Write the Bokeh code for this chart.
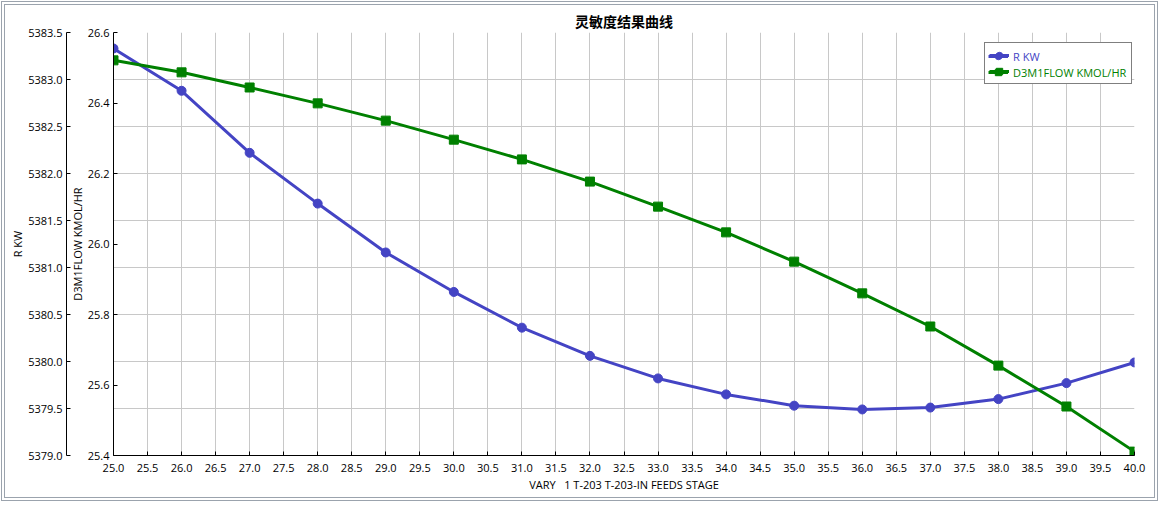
from bokeh.plotting import figure
from bokeh.models import (Range1d, LinearAxis, Grid, SingleIntervalTicker, Legend,
                          LegendItem, NumeralTickFormatter)
from bokeh.embed import file_html
from bokeh.resources import INLINE

# ---- data ----
stage = [25, 26, 27, 28, 29, 30, 31, 32, 33, 34, 35, 36, 37, 38, 39, 40]
r_kw = [5383.33, 5382.88, 5382.22, 5381.68, 5381.16, 5380.74, 5380.36, 5380.06,
        5379.82, 5379.65, 5379.53, 5379.49, 5379.51, 5379.60, 5379.77, 5379.99]
d3m1flow = [26.521, 26.487, 26.444, 26.399, 26.350, 26.296, 26.240, 26.177,
            26.106, 26.033, 25.950, 25.860, 25.766, 25.655, 25.539, 25.411]
title_text = "灵敏度结果曲线"
x_label = "VARY \u00a0\u00a01 T-203 T-203-IN FEEDS STAGE"
r_label = "R KW"
flow_label = "D3M1FLOW KMOL/HR"

BLUE = "#4444c4"
GREEN = "#008000"
FONT = "Open Sans"

p = figure(frame_width=1021, frame_height=423,
           x_range=Range1d(25, 40), y_range=Range1d(5379, 5383.5),
           y_axis_location=None, output_backend="svg", toolbar_location=None,
           min_border_left=108, min_border_right=20, min_border_top=27, min_border_bottom=42)
p.extra_y_ranges = {"flow": Range1d(25.4, 26.6)}
p.styles = {"margin": "1px", "border": "4px double #9ba3ad"}
p.outline_line_color = None
p.background_fill_color = "white"
p.border_fill_color = "white"

p.title.text = title_text
p.title.align = "center"
p.title.text_font = "Noto Sans CJK SC"
p.title.text_font_size = "14px"
p.title.text_font_style = "bold"
p.title.text_color = "black"
p.title.standoff = 4

xticker = SingleIntervalTicker(interval=0.5, num_minor_ticks=0)
rticker = SingleIntervalTicker(interval=0.5, num_minor_ticks=0)
fticker = SingleIntervalTicker(interval=0.2, num_minor_ticks=0)

xaxis = p.xaxis[0]
xaxis.ticker = xticker
xaxis.axis_label = x_label
p.xgrid.ticker = xticker

flow_axis = LinearAxis(y_range_name="flow", ticker=fticker, axis_label=flow_label)
r_axis = LinearAxis(ticker=rticker, axis_label=r_label)
p.add_layout(flow_axis, "left")
p.add_layout(r_axis, "left")

p.add_layout(Grid(dimension=1, ticker=rticker, grid_line_color="#c8c8c8"))
p.xgrid.grid_line_color = "#c8c8c8"

for ax in (xaxis, flow_axis, r_axis):
    ax.formatter = NumeralTickFormatter(format="0.0")
    ax.major_tick_in = 4
    ax.major_tick_out = 0
    ax.minor_tick_line_color = None
    ax.axis_line_color = "black"
    ax.major_tick_line_color = "black"
    ax.major_label_text_font = FONT
    ax.major_label_text_font_size = "11px"
    ax.major_label_text_color = "black"
    ax.axis_label_text_font = FONT
    ax.axis_label_text_font_size = "11px"
    ax.axis_label_text_font_style = "normal"
    ax.axis_label_text_color = "black"

xaxis.major_label_standoff = 8
xaxis.axis_label_standoff = 2
flow_axis.major_label_standoff = 4
flow_axis.axis_label_standoff = 0
r_axis.major_label_standoff = 4
r_axis.axis_label_standoff = 0

r_line = p.line(stage, r_kw, line_color=BLUE, line_width=3)
r_pts = p.scatter(stage, r_kw, marker="circle", size=9, fill_color=BLUE, line_color=BLUE)
f_line = p.line(stage, d3m1flow, y_range_name="flow", line_color=GREEN, line_width=3)
f_pts = p.scatter(stage, d3m1flow, y_range_name="flow", marker="square", size=9,
                  fill_color=GREEN, line_color=GREEN)

# legend box (glyphs + border), labels drawn by two coloured legends on top
common = dict(glyph_width=20, glyph_height=16, label_height=16, label_standoff=5,
              label_text_font=FONT, label_text_font_size="11px", spacing=0, margin=0)
lx, ly, pad = 871, 371, 4
leg0 = Legend(items=[LegendItem(label=r_label, renderers=[r_line, r_pts]),
                     LegendItem(label=flow_label, renderers=[f_line, f_pts])],
              location=(lx, ly), padding=pad, border_line_color="black", border_line_width=1,
              background_fill_color="white", background_fill_alpha=1.0,
              label_text_alpha=0.0, **common)
leg1 = Legend(items=[LegendItem(label=r_label, renderers=[r_line, r_pts])],
              location=(lx + pad, ly + pad + 16), padding=0, border_line_color=None,
              background_fill_alpha=0.0, label_text_color=BLUE, **common)
leg2 = Legend(items=[LegendItem(label=flow_label, renderers=[f_line, f_pts])],
              location=(lx + pad, ly + pad), padding=0, border_line_color=None,
              background_fill_alpha=0.0, label_text_color=GREEN, **common)
p.add_layout(leg0)
p.add_layout(leg1)
p.add_layout(leg2)

open("out.html", "w").write(file_html(p, INLINE))
